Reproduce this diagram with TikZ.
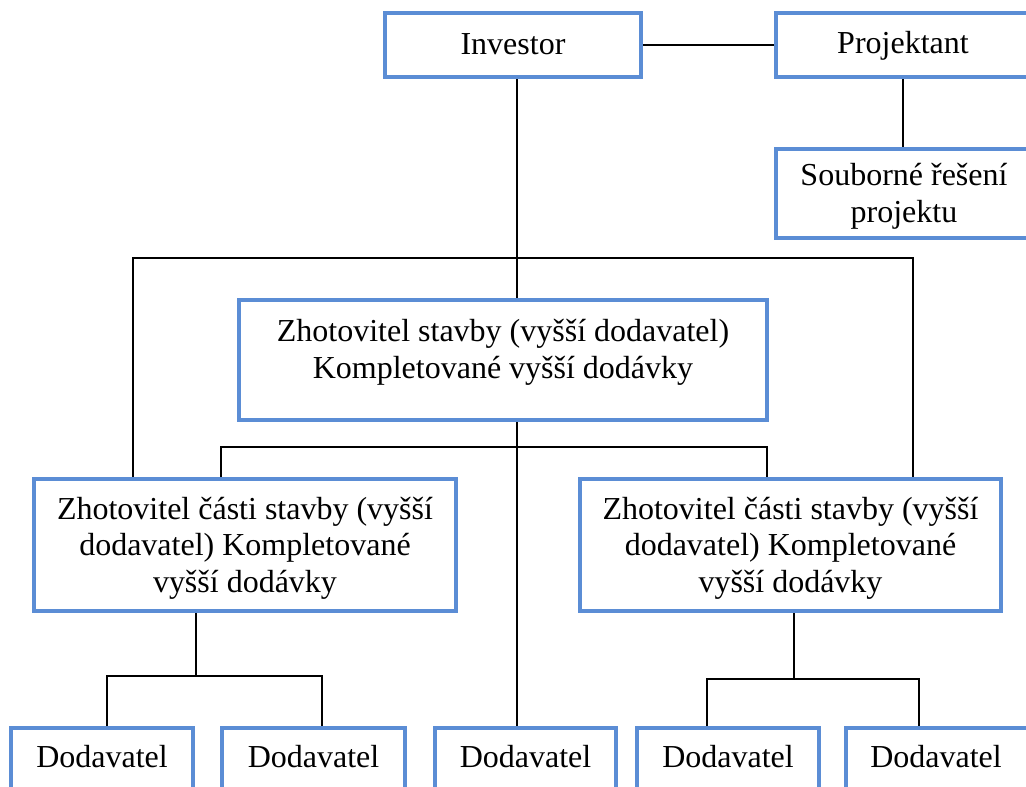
\documentclass[tikz,border=0pt]{standalone}
\usepackage{fontspec}
\setmainfont{Liberation Serif}
\begin{document}
\definecolor{boxblue}{RGB}{91,141,213}
\begin{tikzpicture}[x=1pt,y=-1pt,
  box/.style={draw=boxblue,line width=4pt,fill=white,rectangle,inner sep=0pt},
  link/.style={draw=black,line width=2.5pt},
  lbl/.style={anchor=base,inner sep=0pt,align=center,
    font=\fontsize{32}{36.5}\selectfont}]
\path[use as bounding box] (0,0) rectangle (1026,787);
\clip (0,0) rectangle (1026,787);

% organisation boxes
\node[box,minimum width=256pt,minimum height=64pt]  (inv)  at (513,45) {};
\node[box,minimum width=254pt,minimum height=64pt]  (proj) at (903,45) {};
\node[box,minimum width=254pt,minimum height=89pt]  (soub) at (903,193.5) {};
\node[box,minimum width=528pt,minimum height=120pt] (zs)   at (503,360) {};
\node[box,minimum width=422pt,minimum height=132pt] (zl)   at (245,545) {};
\node[box,minimum width=421pt,minimum height=132pt] (zr)   at (790.5,545) {};
\node[box,minimum width=182pt,minimum height=67pt]  (d1)   at (102,761.5) {};
\node[box,minimum width=183pt,minimum height=67pt]  (d2)   at (313.5,761.5) {};
\node[box,minimum width=181pt,minimum height=67pt]  (d3)   at (525.5,761.5) {};
\node[box,minimum width=182pt,minimum height=67pt]  (d4)   at (728,761.5) {};
\node[box,minimum width=184pt,minimum height=67pt]  (d5)   at (938,761.5) {};

% labels (multi-line labels are placed by the baseline of their last line)
\node[lbl] (tinv)  at (513,54)  {Investor};
\node[lbl] (tproj) at (903,53)  {Projektant};
\node[lbl] (tsoub) at (904,222) {Souborné řešení\\projektu};
\node[lbl] (tzs)   at (503,378) {Zhotovitel stavby (vyšší dodavatel)\\Kompletované vyšší dodávky};
\node[lbl] (tzl)   at (245,592) {Zhotovitel části stavby (vyšší\\dodavatel) Kompletované\\vyšší dodávky};
\node[lbl] (tzr)   at (790.5,592) {Zhotovitel části stavby (vyšší\\dodavatel) Kompletované\\vyšší dodávky};
\node[lbl] (td1)   at (102,767)   {Dodavatel};
\node[lbl] (td2)   at (313.5,767) {Dodavatel};
\node[lbl] (td3)   at (525.5,767) {Dodavatel};
\node[lbl] (td4)   at (728,767)   {Dodavatel};
\node[lbl] (td5)   at (936,767)   {Dodavatel};

% junction points of the connector lines
\coordinate (spine) at (517,0);
\coordinate (tl) at (133,258);
\coordinate (tr) at (913,258);
\coordinate (ml) at (221,447);
\coordinate (mr) at (767,447);
\coordinate (lj) at (196,676);
\coordinate (ll) at (107,676);
\coordinate (lr) at (322,676);
\coordinate (rj) at (794,679);
\coordinate (rl) at (707,679);
\coordinate (rr) at (919,679);

% connectors
\draw[link] (inv.east) -- (proj.west);
\draw[link] (proj.south) -- (soub.north);
\draw[link] (inv.south -| spine) -- (zs.north -| spine);
\draw[link] (zs.south -| spine) -- (d3.north -| spine);
\draw[link] (zl.north -| tl) -- (tl) -- (tr) -- (zr.north -| tr);
\draw[link] (zl.north -| ml) -- (ml) -- (mr) -- (zr.north -| mr);
\draw[link] (zl.south -| lj) -- (lj);
\draw[link] (d1.north -| ll) -- (ll) -- (lr) -- (d2.north -| lr);
\draw[link] (zr.south -| rj) -- (rj);
\draw[link] (d4.north -| rl) -- (rl) -- (rr) -- (d5.north -| rr);
\end{tikzpicture}
\end{document}
